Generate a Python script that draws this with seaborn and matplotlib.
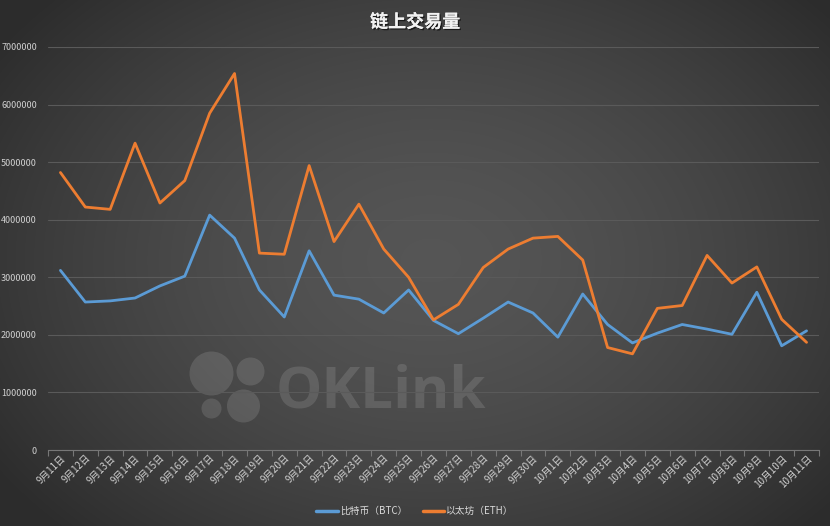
import numpy as np
import pandas as pd
import matplotlib
matplotlib.use("Agg")
import matplotlib.pyplot as plt
import matplotlib.patheffects as pe
from matplotlib.patches import Circle
import seaborn as sns

dates = ["9月11日", "9月12日", "9月13日", "9月14日", "9月15日", "9月16日", "9月17日", "9月18日",
         "9月19日", "9月20日", "9月21日", "9月22日", "9月23日", "9月24日", "9月25日", "9月26日",
         "9月27日", "9月28日", "9月29日", "9月30日", "10月1日", "10月2日", "10月3日", "10月4日",
         "10月5日", "10月6日", "10月7日", "10月8日", "10月9日", "10月10日", "10月11日"]
btc = [3120000, 2570000, 2590000, 2640000, 2850000, 3020000, 4080000, 3680000,
       2780000, 2310000, 3460000, 2690000, 2620000, 2380000, 2780000, 2250000,
       2020000, 2290000, 2570000, 2380000, 1960000, 2710000, 2180000, 1860000,
       2030000, 2180000, 2100000, 2010000, 2740000, 1810000, 2070000]
eth = [4820000, 4220000, 4180000, 5330000, 4290000, 4680000, 5850000, 6540000,
       3420000, 3400000, 4940000, 3620000, 4270000, 3490000, 3000000, 2260000,
       2530000, 3170000, 3490000, 3680000, 3710000, 3300000, 1780000, 1670000,
       2460000, 2510000, 3380000, 2900000, 3180000, 2270000, 1870000]
series_names = ["比特币（BTC）", "以太坊（ETH）"]
yticks = [0, 1000000, 2000000, 3000000, 4000000, 5000000, 6000000, 7000000]
title = "链上交易量"

df = pd.DataFrame({
    "date": dates * 2,
    "value": btc + eth,
    "series": [series_names[0]] * len(dates) + [series_names[1]] * len(dates),
})

sns.set_theme(style="dark")
plt.rcParams['font.family'] = ['Noto Sans CJK SC', 'DejaVu Sans']

W, H = 830, 526
fig = plt.figure(figsize=(W / 100, H / 100), dpi=100)

# background radial gradient
bg = fig.add_axes([0, 0, 1, 1], zorder=-10)
yy, xx = np.mgrid[0:H, 0:W]
cx, cy = 430, 260
r = np.sqrt(((xx - cx) / 520.0) ** 2 + ((yy - cy) / 380.0) ** 2)
val = 0.335 - 0.16 * np.clip(r, 0, 1) ** 1.6
img = np.dstack([val, val, val])
bg.imshow(img, extent=[0, 1, 0, 1], aspect="auto", origin="upper")
bg.set_axis_off()

# watermark
wm = fig.add_axes([0, 0, 1, 1], zorder=-5)
wm.set_xlim(0, W)
wm.set_ylim(H, 0)
wm.set_axis_off()
wm.patch.set_alpha(0)
for (x, y, rr) in [(211.5, 373.5, 22), (250.5, 371.5, 14), (211.5, 408.5, 10), (243.5, 406, 16.5)]:
    wm.add_patch(Circle((x, y), rr, color="white", alpha=0.12, lw=0))
wm.text(276, 407, "OKLink", fontsize=42, fontweight="bold", color="white", alpha=0.12,
        family=["Open Sans", "DejaVu Sans"], ha="left", va="baseline")

ax = fig.add_axes([48 / W, 1 - 450 / H, (819 - 48) / W, (450 - 47) / H])
ax.patch.set_alpha(0)
sns.lineplot(data=df, x="date", y="value", hue="series", sort=False,
             palette=["#5B9BD5", "#ED7D31"], linewidth=2.0, ax=ax, legend=True)

ax.set_xlim(-0.5, len(dates) - 0.5)
ax.set_ylim(0, 7000000)
ax.set_yticks(yticks)
ax.set_yticklabels([str(v) for v in yticks])
ax.set_xticks(range(len(dates)))
ax.set_xticklabels(dates, rotation=45, ha="right", rotation_mode="anchor")
ax.set_xlabel("")
ax.set_ylabel("")
ax.grid(axis="y", color="#5a5a5a", linewidth=0.8)
ax.grid(axis="x", visible=False)
for s in ["top", "right", "left"]:
    ax.spines[s].set_visible(False)
ax.spines["bottom"].set_color("#777777")
ax.spines["bottom"].set_linewidth(0.8)
ax.tick_params(axis="y", colors="#d0d0d0", labelsize=6.5, length=0, pad=8)
ax.tick_params(axis="x", colors="#d0d0d0", labelsize=7, length=4, width=0.8,
               direction="out", bottom=True, pad=2, color="#777777")
ax.set_xticks(np.arange(-0.5, len(dates), 1), minor=True)
ax.tick_params(axis="x", which="minor", length=4, width=0.8, color="#777777", bottom=True)
ax.tick_params(axis="x", which="major", length=0)

leg = ax.legend(loc="center", ncol=2, frameon=False, fontsize=7, handlelength=2.2,
                columnspacing=1.6, handletextpad=0.2)
leg.set_bbox_to_anchor((0.5, 1 - 511 / H), transform=fig.transFigure)
for t in leg.get_texts():
    t.set_color("#d9d9d9")
for l in leg.get_lines():
    l.set_linewidth(2.5)

fig.text(0.5, 1 - 22 / H, title, ha="center", va="center", fontsize=13, fontweight="bold",
         color="#f2f2f2",
         path_effects=[pe.withSimplePatchShadow(offset=(1, -1), shadow_rgbFace="black", alpha=0.6), pe.Normal()])

fig.savefig("out.png", dpi=100)
